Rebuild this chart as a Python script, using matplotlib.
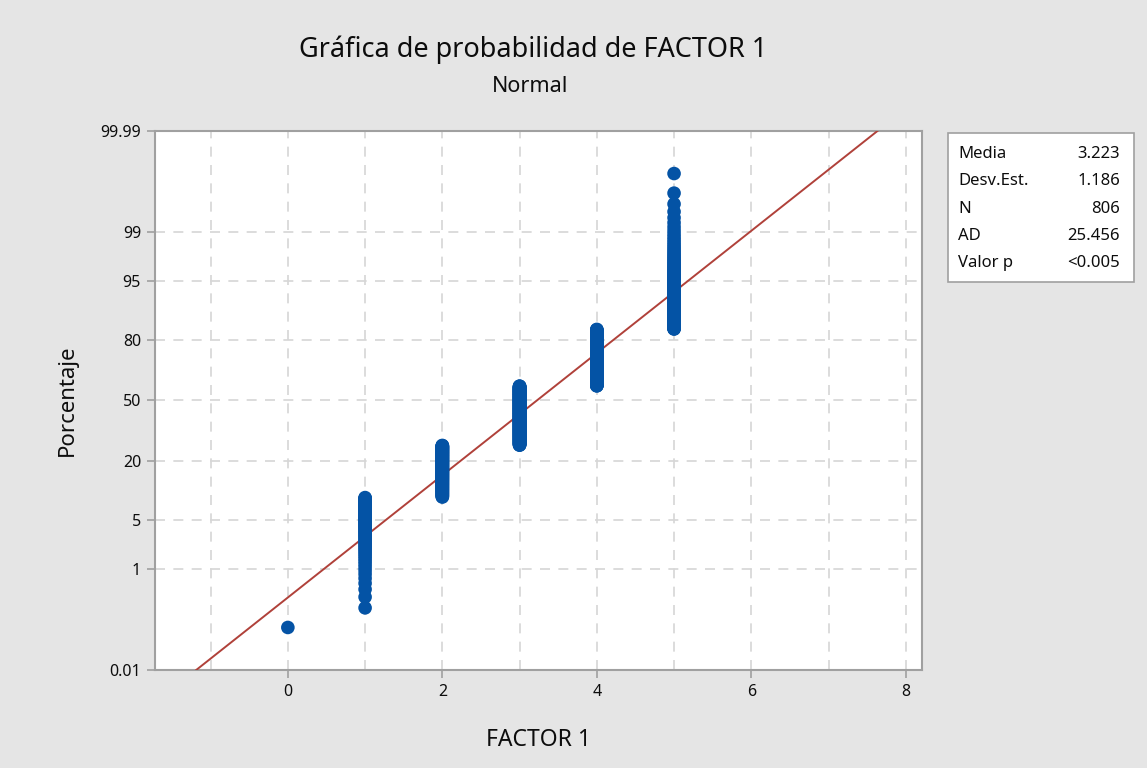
import statistics
import numpy as np
import matplotlib
matplotlib.use("Agg")
import matplotlib.pyplot as plt
from matplotlib.patches import Rectangle
from matplotlib.ticker import FixedLocator, MultipleLocator, FixedFormatter

# ── Data ─────────────────────────────────────────────────────────────────────
values = [0, 1, 2, 3, 4, 5]
counts = [1, 72, 143, 251, 208, 131]          # N = 806
pct_ticks  = [0.01, 1, 5, 20, 50, 80, 95, 99, 99.99]
pct_labels = ["0.01", "1", "5", "20", "50", "80", "95", "99", "99.99"]
pct_grid   = [1, 5, 20, 50, 80, 95, 99]
x_ticks = [0, 2, 4, 6, 8]
stat_names  = ["Media", "Desv.Est.", "N", "AD", "Valor p"]
stat_values = ["3.223", "1.186", "806", "25.456", "<0.005"]

FONT = ["Noto Sans", "DejaVu Sans"]
BG = "#e5e5e5"
BLUE = "#0453a5"
RED = "#b0413a"
AXCOL = "#a0a0a0"
GRIDCOL = "#d6d6d6"
TXT = "#0d0d0d"

plt.rcParams["font.family"] = FONT
plt.rcParams["font.weight"] = "medium"

# ── Normal probability scale ─────────────────────────────────────────────────
nd = statistics.NormalDist()
_ppf = np.vectorize(lambda p: nd.inv_cdf(min(max(p, 1e-12), 1 - 1e-12)) if np.isfinite(p) else np.nan,
                    otypes=[float])
_cdf = np.vectorize(lambda z: nd.cdf(z) if np.isfinite(z) else np.nan, otypes=[float])

def fwd(pct):
    return _ppf(np.asarray(pct, dtype=float) / 100.0)

def inv(z):
    return _cdf(np.asarray(z, dtype=float)) * 100.0

# points at median ranks, like Minitab
x = np.repeat(values, counts).astype(float)
n = len(x)
ranks = np.arange(1, n + 1)
pct = (ranks - 0.3) / (n + 0.4) * 100.0
mu, sd = x.mean(), x.std(ddof=1)
line_pct = np.array([0.01, 99.99])
line_x = mu + sd * fwd(line_pct)

# ── Figure ───────────────────────────────────────────────────────────────────
W, H = 1147, 768
fig = plt.figure(figsize=(W / 100, H / 100), dpi=100, facecolor=BG)
ax = fig.add_axes([155 / W, 1 - 670 / H, (922 - 155) / W, (670 - 131) / H])
ax.set_facecolor("white")
ax.set_yscale("function", functions=(fwd, inv))

ax.plot(line_x, line_pct, color=RED, lw=1.4, zorder=3)
ax.scatter(x, pct, s=96, color=BLUE, edgecolors="none", zorder=4)

ax.set_xlim(-1.72, 8.21)
ax.set_ylim(0.01, 99.99)

ax.yaxis.set_major_locator(FixedLocator(pct_ticks))
ax.yaxis.set_major_formatter(FixedFormatter(pct_labels))
ax.yaxis.set_minor_locator(FixedLocator([]))
ax.xaxis.set_major_locator(FixedLocator(x_ticks))
ax.xaxis.set_minor_locator(MultipleLocator(1))

# dashed grid, drawn by hand so the edge ticks get no line
for v in range(-1, 9):
    ax.axvline(v, color=GRIDCOL, lw=1.2, ls=(0, (6, 5)), zorder=1)
for p in pct_grid:
    ax.axhline(p, color=GRIDCOL, lw=1.2, ls=(0, (6, 5)), zorder=1)

for s in ax.spines.values():
    s.set_color(AXCOL)
    s.set_linewidth(1.5)
ax.tick_params(which="major", direction="out", length=6, width=1.2, color=AXCOL,
               labelsize=11.5, labelcolor=TXT, pad=4)
ax.tick_params(which="minor", length=0)

ax.set_xlabel("FACTOR 1", fontsize=16.5, color=TXT, labelpad=20)
ax.set_ylabel("Porcentaje", fontsize=16, color=TXT, labelpad=16)

fig.text(533 / W, 1 - 50 / H, "Gráfica de probabilidad de FACTOR 1", ha="center", va="center",
         fontsize=19.5, color=TXT)
fig.text(530 / W, 1 - 86 / H, "Normal", ha="center", va="center", fontsize=15.5, color=TXT)

# statistics box
fig.patches.append(Rectangle((948 / W, 1 - 282 / H), (1134 - 948) / W, (282 - 133) / H,
                             transform=fig.transFigure, facecolor="white",
                             edgecolor=AXCOL, lw=1.2))
for k, (name, val) in enumerate(zip(stat_names, stat_values)):
    yy = 1 - (154 + k * 27.3) / H
    fig.text(958 / W, yy, name, ha="left", va="center", fontsize=12, color=TXT)
    fig.text(1120 / W, yy, val, ha="right", va="center", fontsize=12, color=TXT)

fig.savefig("out.png", dpi=100, facecolor=BG)
